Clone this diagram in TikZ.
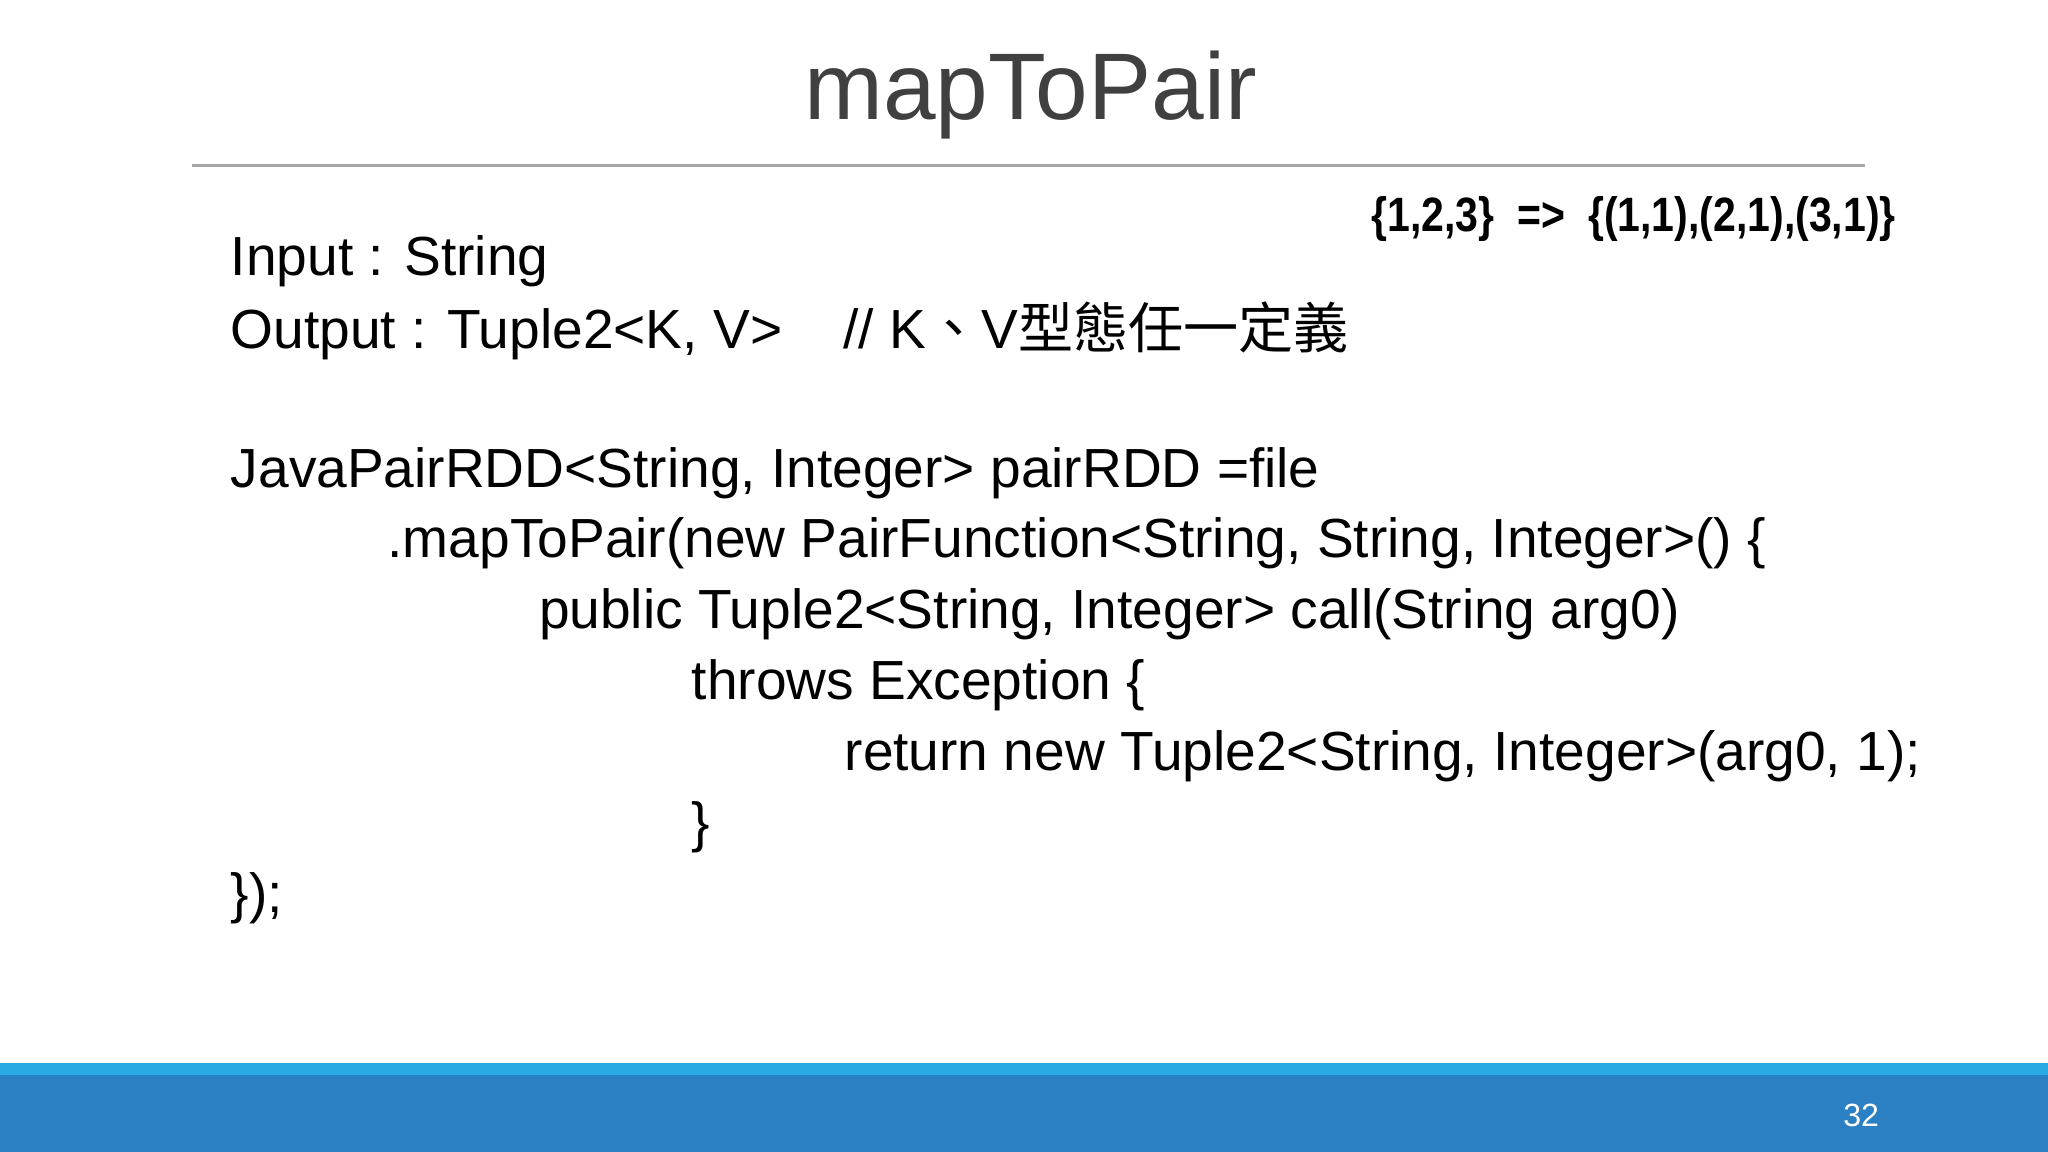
\documentclass[tikz,border=0pt]{standalone}
\usepackage{fontspec}
\setmainfont{Liberation Sans}
\newfontfamily\cjk{Noto Sans CJK TC}
\definecolor{titlegray}{HTML}{404040}
\definecolor{lightband}{HTML}{2AAAE2}
\definecolor{darkband}{HTML}{2A80C3}
\begin{document}
\begin{tikzpicture}[x=0.01cm,y=-0.01cm,
  code/.style={anchor=west,inner sep=0pt,font=\fontsize{12pt}{14pt}\selectfont,text=black}]
\useasboundingbox (0,0) rectangle (1568,882);
\fill[white] (0,0) rectangle (1568,882);
\node[titlegray,font=\fontsize{20.6pt}{24pt}\selectfont,inner sep=0pt] (title) at (789,73) {mapToPair};
\draw[gray!70,line width=0.6pt] (147,127) coordinate (l1) -- (1428,127) coordinate (l2);
\node[anchor=east,inner sep=0pt,xscale=0.85,font=\bfseries\fontsize{10.5pt}{12pt}\selectfont] (ex) at (1452,168) {\{1,2,3\}\ \ =>\ \ \{(1,1),(2,1),(3,1)\}};
\node[code] (a1) at (176,200) {Input : String};
\node[code] (a2) at (176,253) {Output : Tuple2<K, V>\ \ \ \ // K{\cjk 、}V{\cjk 型態任一定義}};
\node[code] (a3) at (176,362) {JavaPairRDD<String, Integer> pairRDD =file};
\node[code] (a4) at (296,416) {.mapToPair(new PairFunction<String, String, Integer>() \{};
\node[code] (a5) at (412,470) {public Tuple2<String, Integer> call(String arg0)};
\node[code] (a6) at (529,525) {throws Exception \{};
\node[code] (a7) at (646,579) {return new Tuple2<String, Integer>(arg0, 1);};
\node[code] (a8) at (529,633) {\}};
\node[code] (a9) at (176,688) {\});};
\fill[lightband] (0,814) rectangle (1568,824);
\fill[darkband] (0,823) rectangle (1568,882);
\node[white,font=\fontsize{7pt}{8pt}\selectfont,inner sep=0pt] (pg) at (1425,854) {32};
\end{tikzpicture}
\end{document}
